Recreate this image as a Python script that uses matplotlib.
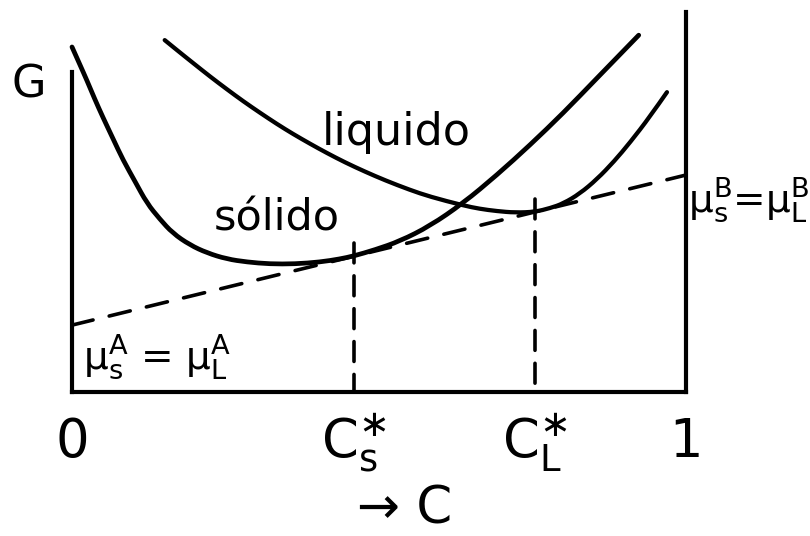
import matplotlib
matplotlib.use("Agg")
import matplotlib.pyplot as plt
from matplotlib.path import Path
from matplotlib.patches import PathPatch

# Composition axis (0 = pure A, 1 = pure B) and free energy G (arbitrary units)
solid_C = [0.000, 0.013, 0.024, 0.037, 0.050, 0.067, 0.083, 0.103, 0.122, 0.143,
           0.164, 0.192, 0.220, 0.252, 0.285, 0.322, 0.363, 0.404, 0.436, 0.459,
           0.493, 0.534, 0.583, 0.637, 0.692, 0.746, 0.800, 0.855, 0.923]
solid_G = [0.908, 0.861, 0.821, 0.771, 0.724, 0.666, 0.611, 0.553, 0.497, 0.455,
           0.418, 0.387, 0.366, 0.350, 0.342, 0.337, 0.337, 0.342, 0.350, 0.358,
           0.374, 0.397, 0.437, 0.497, 0.571, 0.650, 0.734, 0.826, 0.939]

liquid_C = [0.151, 0.173, 0.197, 0.225, 0.252, 0.279, 0.306, 0.334, 0.360, 0.388,
            0.415, 0.445, 0.477, 0.510, 0.550, 0.583, 0.637, 0.664, 0.692, 0.722,
            0.754, 0.779, 0.800, 0.827, 0.855, 0.883, 0.909, 0.941, 0.969]
liquid_G = [0.926, 0.897, 0.866, 0.830, 0.797, 0.765, 0.735, 0.705, 0.679, 0.653,
            0.629, 0.604, 0.580, 0.557, 0.532, 0.514, 0.491, 0.482, 0.476, 0.472,
            0.474, 0.484, 0.496, 0.522, 0.560, 0.607, 0.657, 0.724, 0.789]

# Common tangent between the two curves
tangent_C = [0.0, 1.0]
tangent_G = [0.176, 0.571]

# Equilibrium compositions
cs_star = 0.459
cl_star = 0.754

tick_pos = [0.0, cs_star, cl_star, 1.0]
tick_labels = ["0", r"C$_s^{\ast}$", r"C$_L^{\ast}$", "1"]

left_axis_top = 0.842
right_axis_top = 1.0

plt.rcParams["font.family"] = ["DejaVu Sans"]
plt.rcParams["mathtext.fontset"] = "dejavusans"
plt.rcParams["mathtext.default"] = "regular"


def smooth_path(xs, ys):
    """Quadratic B-spline style path: interior points act as control points."""
    pts = list(zip(xs, ys))
    verts = [pts[0]]
    codes = [Path.MOVETO]
    for i in range(1, len(pts) - 1):
        p, q = pts[i], pts[i + 1]
        end = q if i == len(pts) - 2 else ((p[0] + q[0]) / 2, (p[1] + q[1]) / 2)
        verts += [p, end]
        codes += [Path.CURVE3, Path.CURVE3]
    return Path(verts, codes)


fig = plt.figure(figsize=(8.10, 5.36), dpi=100)
ax = fig.add_axes([72 / 810, 144 / 536, 614 / 810, 380 / 536])
ax.set_xlim(0, 1)
ax.set_ylim(0, 1)

curve_lw = 3.4
ax.add_patch(PathPatch(smooth_path(solid_C, solid_G), fill=False, edgecolor="black",
                       lw=curve_lw, capstyle="round", clip_on=False, zorder=3))
ax.add_patch(PathPatch(smooth_path(liquid_C, liquid_G), fill=False, edgecolor="black",
                       lw=curve_lw * 0.9, capstyle="round", clip_on=False, zorder=3))

ax.plot(tangent_C, tangent_G, color="black", lw=2.6, ls=(0, (6.0, 4.6)),
        dash_capstyle="round", clip_on=False, zorder=2)

slope = (tangent_G[1] - tangent_G[0]) / (tangent_C[1] - tangent_C[0])
for c in (cs_star, cl_star):
    g_t = tangent_G[0] + slope * c
    ax.plot([c, c], [g_t + 0.035, 0.0], color="black", lw=2.6, ls=(0, (5.5, 3.6)),
            dash_capstyle="round", zorder=2)

# Frame: left and right axes of unequal height, no top line
for side in ("left", "right", "bottom"):
    ax.spines[side].set_linewidth(3.0)
    ax.spines[side].set_color("black")
ax.spines["top"].set_visible(False)
ax.spines["left"].set_bounds(0, left_axis_top)
ax.spines["right"].set_bounds(0, right_axis_top)

ax.set_yticks([])
ax.set_xticks(tick_pos, tick_labels)
ax.tick_params(axis="x", length=0, pad=47, labelsize=38)
for lab in ax.get_xticklabels():
    lab.set_va("baseline")

ax.set_xlabel("→ C", fontsize=37)
ax.xaxis.label.set_va("baseline")
ax.xaxis.set_label_coords(0.542, -0.345)

ax.text(-0.07, 0.776, "G", transform=ax.transAxes, fontsize=32,
        ha="center", va="baseline")

ax.text(0.528, 0.650, "liquido", fontsize=32, ha="center", va="baseline")
ax.text(0.333, 0.426, "sólido", fontsize=31, ha="center", va="baseline")

ax.text(0.018, 0.063, r"μ$_s^A$ = μ$_L^A$", fontsize=28, ha="left", va="baseline")
ax.text(1.004, 0.474, r"μ$_s^B$=μ$_L^B$", fontsize=28, ha="left", va="baseline",
        clip_on=False)

fig.savefig("out.png", dpi=100, facecolor="white")
